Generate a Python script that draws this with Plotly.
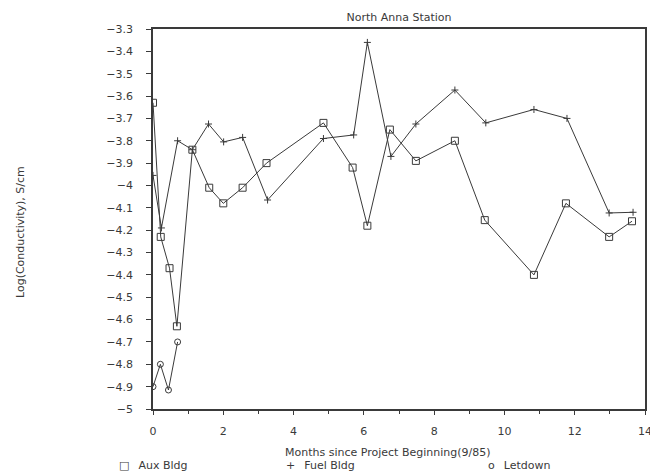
import plotly.graph_objects as go

# Months since project beginning (9/85)
aux_x = [0, 0.22, 0.47, 0.68, 1.12, 1.6, 2.0, 2.55, 3.23, 4.85, 5.68, 6.1, 6.74, 7.48, 8.59, 9.44, 10.84, 11.75, 12.98, 13.63]
aux_y = [-3.63, -4.23, -4.37, -4.63, -3.84, -4.01, -4.08, -4.01, -3.90, -3.72, -3.92, -4.18, -3.75, -3.89, -3.80, -4.155, -4.40, -4.08, -4.23, -4.16]

fuel_x = [0, 0.24, 0.70, 1.12, 1.58, 2.01, 2.55, 3.26, 4.85, 5.71, 6.1, 6.77, 7.48, 8.59, 9.47, 10.84, 11.78, 12.98, 13.66]
fuel_y = [-3.955, -4.19, -3.80, -3.84, -3.725, -3.805, -3.785, -4.065, -3.79, -3.774, -3.36, -3.87, -3.725, -3.573, -3.72, -3.66, -3.70, -4.123, -4.12]

letdown_x = [0, 0.21, 0.44, 0.70]
letdown_y = [-4.90, -4.80, -4.915, -4.70]

series_names = ["Aux Bldg", "Fuel Bldg", "Letdown"]
legend_glyphs = ["\u25a1", "+", "o"]

x_ticks = [0, 2, 4, 6, 8, 10, 12, 14]

FONT = "DejaVu Sans"
INK = "#3a3a3a"
FS = 11

# the page body adds an 8 px offset, so the figure is sized to fit the window
OFF = 8
W, H = 658 - OFF, 476 - OFF
ML, MT = 153 - OFF, 29 - OFF
MR = W - (645 - OFF)
MB = H - (409 - OFF)
PW = W - ML - MR
PH = H - MT - MB


def px_x(px):
    return (px - OFF - ML) / PW


def px_y(py):
    return ((H - MB) - (py - OFF)) / PH


fig = go.Figure()


def add_series(x, y, name, symbol, size):
    fig.add_trace(go.Scatter(
        x=x, y=y, mode="lines+markers", name=name, showlegend=False,
        line=dict(color=INK, width=1),
        marker=dict(symbol=symbol, size=size, color=INK,
                    line=dict(color=INK, width=1)),
    ))


add_series(aux_x, aux_y, series_names[0], "square-open", 7)
add_series(fuel_x, fuel_y, series_names[1], "cross-thin", 5)
add_series(letdown_x, letdown_y, series_names[2], "circle-open", 6)

fig.update_layout(
    width=W, height=H,
    margin=dict(l=ML, r=MR, t=MT, b=MB, autoexpand=False),
    paper_bgcolor="white", plot_bgcolor="white",
    font=dict(family=FONT, size=FS, color=INK),
    title=dict(text="North Anna Station", x=0.5, xref="paper",
               y=1 - (17 - OFF) / H, yanchor="middle",
               font=dict(family=FONT, size=FS, color=INK)),
    showlegend=False,
)

fig.update_xaxes(
    range=[0, 14], tickvals=x_ticks, ticktext=[str(v) for v in x_ticks],
    ticks="outside", ticklen=4, tickcolor=INK,
    minor=dict(dtick=1, ticks="outside", ticklen=3, tickcolor=INK),
    showgrid=False, zeroline=False,
    showline=True, linecolor=INK, linewidth=1.5, mirror=True,
    tickfont=dict(family=FONT, size=FS, color=INK),
    ticklabelstandoff=7,
)

fig.update_yaxes(
    range=[-5, -3.3], dtick=0.1, tick0=-5,
    ticks="outside", ticklen=5, tickcolor=INK,
    showgrid=False, zeroline=False,
    showline=True, linecolor=INK, linewidth=1.5, mirror=True,
    tickfont=dict(family=FONT, size=FS, color=INK),
    ticklabelstandoff=11,
)

# axis titles
fig.add_annotation(
    text="Months since Project Beginning(9/85)",
    xref="paper", yref="paper", x=px_x(388), y=px_y(452),
    xanchor="center", yanchor="middle", showarrow=False,
    font=dict(family=FONT, size=FS, color=INK),
)
fig.add_annotation(
    text="Log(Conductivity), S/cm", textangle=-90,
    xref="paper", yref="paper", x=px_x(20), y=px_y(232),
    xanchor="center", yanchor="middle", showarrow=False,
    font=dict(family=FONT, size=FS, color=INK),
)

# legend row beneath the axis title
legend_px = [117, 284, 486]
for glyph, name, px in zip(legend_glyphs, series_names, legend_px):
    fig.add_annotation(
        text=glyph + "\u2002 " + name,
        xref="paper", yref="paper", x=px_x(px), y=px_y(466),
        xanchor="left", yanchor="middle", showarrow=False,
        font=dict(family=FONT, size=FS, color=INK),
    )

fig.write_html("out.html")
